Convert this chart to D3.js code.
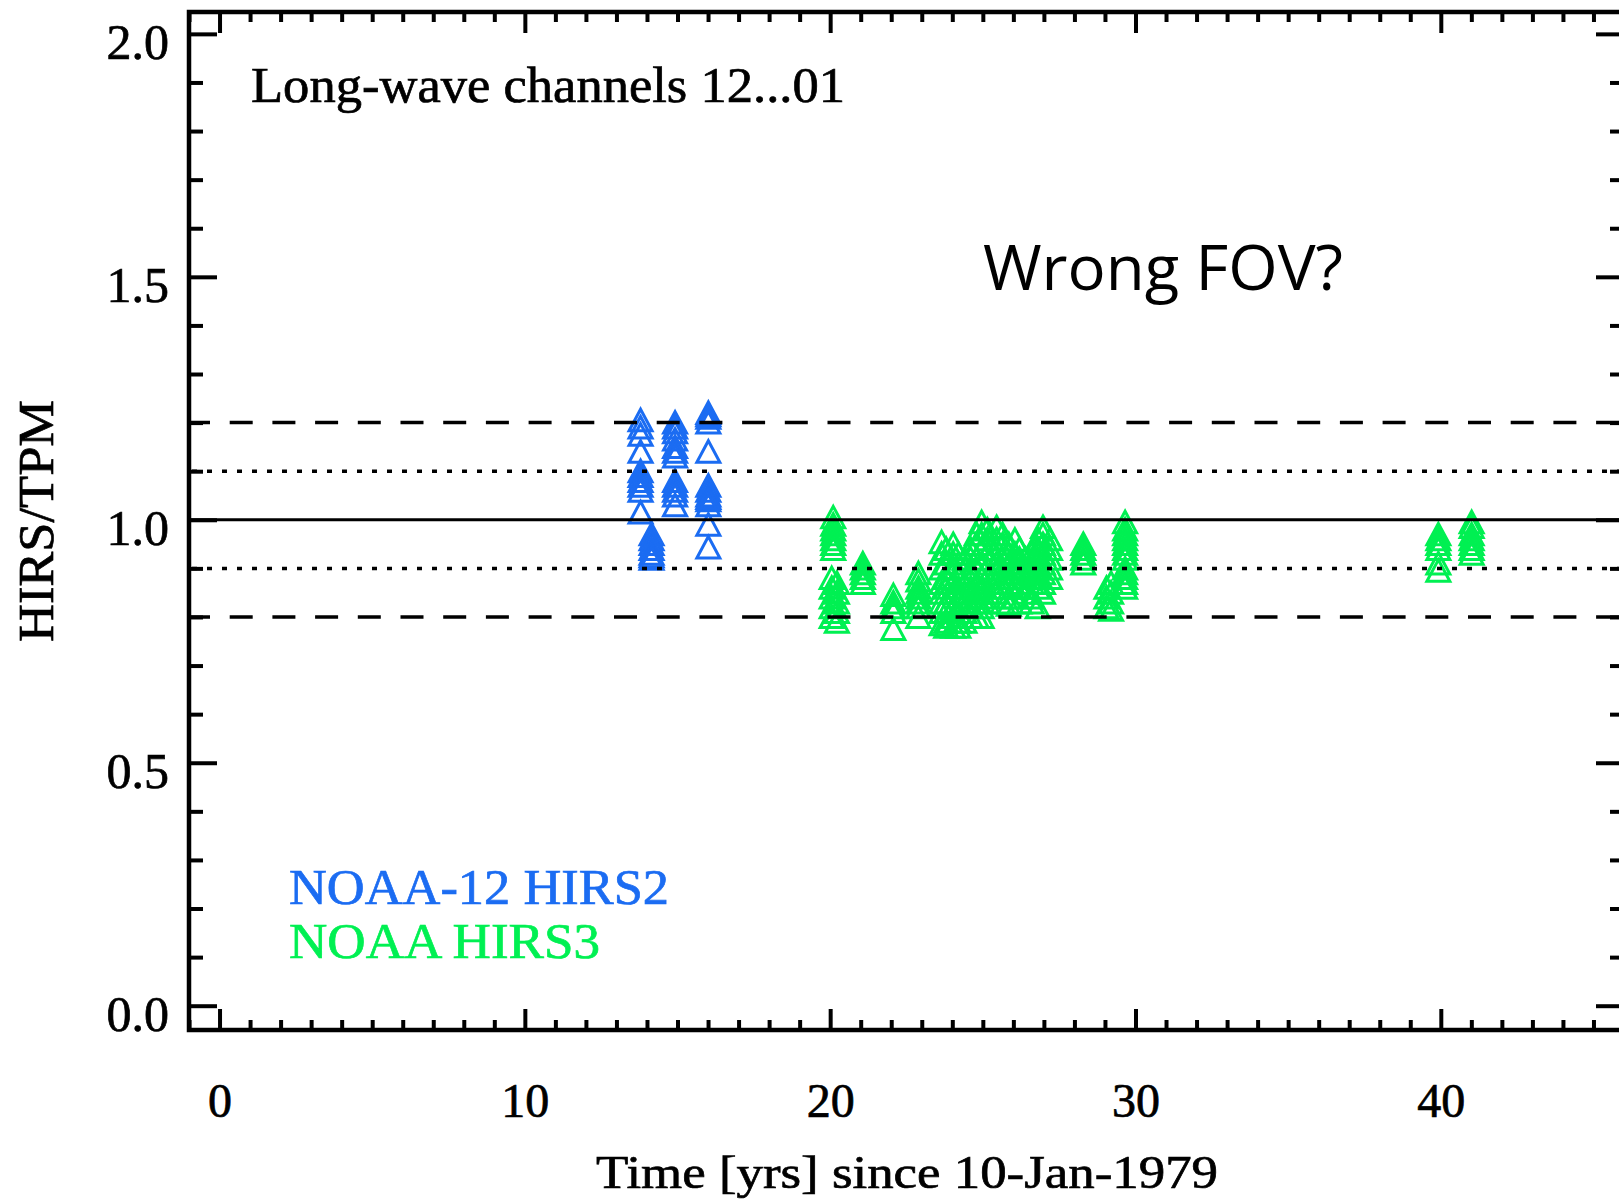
<!DOCTYPE html>
<html>
<head>
<meta charset="utf-8">
<script src="https://cdn.jsdelivr.net/npm/d3@7"></script>
<style>
  html, body { margin: 0; padding: 0; background: #fff; }
  svg { display: block; }
</style>
</head>
<body>
<svg id="chart" width="1619" height="1202"></svg>
<script>
// NOAA-12 HIRS2: observation epochs (years since 10-Jan-1979) and HIRS/TPM ratios at each epoch
const hirs2Epochs = [13.79, 14.15, 14.92, 16.01];
const hirs2Ratios = [
  [1.205, 1.19, 1.175, 1.14, 1.10, 1.09, 1.08, 1.07, 1.06, 1.015],
  [0.97, 0.96, 0.95, 0.94, 0.93, 0.925, 0.92],
  [1.20, 1.19, 1.18, 1.165, 1.15, 1.14, 1.13, 1.08, 1.07, 1.06, 1.05, 1.03],
  [1.22, 1.215, 1.21, 1.20, 1.14, 1.07, 1.06, 1.05, 1.045, 1.04, 1.03, 0.99, 0.943]
];

// NOAA HIRS3: observation epochs and HIRS/TPM ratios
const hirs3Epochs = [
  20.1, 20.05, 20.22, 21.07, 22.07, 22.89,
  23.65, 23.8, 24.03, 24.2, 24.4, 24.6, 24.8, 24.96, 25.15, 25.45, 25.65,
  25.85, 26.05, 26.2, 26.4, 26.6, 26.8, 26.97, 27.2,
  28.29, 29.05, 29.2, 29.66, 39.92, 41.01
];
const hirs3Ratios = [
  [1.005, 0.99, 0.98, 0.97, 0.96, 0.95, 0.94],
  [0.88, 0.86, 0.84, 0.82, 0.80],
  [0.87, 0.85, 0.83, 0.81, 0.79],
  [0.91, 0.90, 0.89, 0.88, 0.87],
  [0.845, 0.83, 0.82, 0.81, 0.775],
  [0.89, 0.875, 0.86, 0.85, 0.84, 0.83, 0.82, 0.80],
  [0.954, 0.93, 0.90, 0.87, 0.85, 0.83, 0.81, 0.785],
  [0.94, 0.91, 0.88, 0.86, 0.83, 0.81, 0.79, 0.78],
  [0.95, 0.93, 0.90, 0.87, 0.85, 0.82, 0.80, 0.78],
  [0.93, 0.91, 0.89, 0.86, 0.84, 0.81, 0.79, 0.78],
  [0.92, 0.90, 0.87, 0.85, 0.83, 0.81, 0.79],
  [0.94, 0.92, 0.89, 0.86, 0.84, 0.82, 0.80],
  [0.97, 0.95, 0.92, 0.90, 0.87, 0.85, 0.83, 0.80],
  [0.995, 0.97, 0.94, 0.91, 0.88, 0.86, 0.84, 0.82, 0.80],
  [0.98, 0.96, 0.93, 0.90, 0.88, 0.85, 0.83],
  [0.985, 0.96, 0.94, 0.91, 0.89, 0.87, 0.85],
  [0.97, 0.95, 0.92, 0.90, 0.88, 0.86, 0.83],
  [0.95, 0.93, 0.91, 0.89, 0.87, 0.84, 0.825],
  [0.959, 0.93, 0.91, 0.89, 0.86, 0.84],
  [0.94, 0.92, 0.90, 0.88, 0.86, 0.83],
  [0.92, 0.90, 0.88, 0.86, 0.85],
  [0.93, 0.91, 0.89, 0.87, 0.84, 0.83],
  [0.96, 0.94, 0.92, 0.90, 0.88, 0.86, 0.82],
  [0.985, 0.97, 0.95, 0.93, 0.91, 0.89, 0.87, 0.85],
  [0.96, 0.94, 0.92, 0.90, 0.88],
  [0.95, 0.94, 0.93, 0.92, 0.91],
  [0.86, 0.84, 0.82],
  [0.87, 0.85, 0.83, 0.815],
  [0.995, 0.98, 0.97, 0.96, 0.95, 0.94, 0.93, 0.92, 0.90, 0.89, 0.88, 0.87, 0.86],
  [0.97, 0.96, 0.95, 0.94, 0.91, 0.895],
  [0.995, 0.985, 0.97, 0.96, 0.95, 0.94, 0.93]
];

// Reference levels: nominal ratio, ±10 % and ±20 %
const solidLevels = [1.0];
const dottedLevels = [1.1, 0.9];
const dashedLevels = [1.2, 0.8];

// Axis ticks
const xMajorTicks = [0, 10, 20, 30, 40];
const yMajorTicks = [0.0, 0.5, 1.0, 1.5, 2.0];

const seriesNames = ["NOAA-12 HIRS2", "NOAA HIRS3"];
const seriesColors = ["#1b6cf2", "#00f052"];

const serif = "'Liberation Serif', 'Times New Roman', serif";

const svg = d3.select("#chart");
const frame = { left: 189, right: 1624, top: 12, bottom: 1030 };

const x = d3.scaleLinear().domain([-1, 46]).range([frame.left, frame.right]);
const y = d3.scaleLinear().domain([-0.05, 2.045]).range([frame.bottom, frame.top]);

const xMinor = d3.range(-1, 47, 1).filter(v => !xMajorTicks.includes(v));
const yMinor = d3.range(0, 21, 1).map(v => +(v / 10).toFixed(1)).filter(v => !yMajorTicks.includes(v));

// clip for everything inside the frame
svg.append("defs").append("clipPath").attr("id", "plotClip")
  .append("rect")
  .attr("x", frame.left).attr("y", frame.top)
  .attr("width", frame.right - frame.left).attr("height", frame.bottom - frame.top);

const plot = svg.append("g").attr("clip-path", "url(#plotClip)");

// flatten series into points
function toPoints(epochs, ratios, s) {
  const pts = [];
  epochs.forEach((t, i) => ratios[i].forEach(r => pts.push({ t, r, s })));
  return pts;
}
const points = toPoints(hirs2Epochs, hirs2Ratios, 0).concat(toPoints(hirs3Epochs, hirs3Ratios, 1));

// open triangles (IDL psym 5 style)
const tri = "M0,-11L11.5,10.5L-11.5,10.5Z";
plot.append("g").selectAll("path")
  .data(points)
  .join("path")
  .attr("d", tri)
  .attr("transform", d => `translate(${x(d.t)},${y(d.r)})`)
  .attr("fill", "none")
  .attr("stroke", d => seriesColors[d.s])
  .attr("stroke-width", 3)
  .attr("stroke-linejoin", "miter");

// reference lines
const lines = plot.append("g");
lines.selectAll(".solid").data(solidLevels).join("line")
  .attr("x1", frame.left).attr("x2", frame.right)
  .attr("y1", d => y(d)).attr("y2", d => y(d))
  .attr("stroke", "#000").attr("stroke-width", 3);
lines.selectAll(".dotted").data(dottedLevels).join("line")
  .attr("x1", frame.left + 3).attr("x2", frame.right)
  .attr("y1", d => y(d)).attr("y2", d => y(d))
  .attr("stroke", "#000").attr("stroke-width", 3.5)
  .attr("stroke-dasharray", "5,10");
lines.selectAll(".dashed").data(dashedLevels).join("line")
  .attr("x1", frame.left - 2).attr("x2", frame.right)
  .attr("y1", d => y(d)).attr("y2", d => y(d))
  .attr("stroke", "#000").attr("stroke-width", 3.5)
  .attr("stroke-dasharray", "23,19.7");

// axes: ticks point inward on all four sides
function styleAxis(g) {
  g.select(".domain").remove();
  g.selectAll(".tick line").attr("stroke", "#000").attr("stroke-width", 4);
}

// bottom
svg.append("g").attr("transform", `translate(0,${frame.bottom})`)
  .call(d3.axisBottom(x).tickValues(xMinor).tickSize(-10).tickFormat(""))
  .call(styleAxis);
const xAxisG = svg.append("g").attr("transform", `translate(0,${frame.bottom})`)
  .call(d3.axisBottom(x).tickValues(xMajorTicks).tickSize(-21).tickFormat(d3.format("d")))
  .call(styleAxis);
xAxisG.selectAll(".tick text")
  .attr("y", 87).attr("dy", 0)
  .style("font-family", serif).style("font-size", "48px")
  .style("fill", "#000").style("stroke", "#000").style("stroke-width", "0.7px");

// top
svg.append("g").attr("transform", `translate(0,${frame.top})`)
  .call(d3.axisTop(x).tickValues(xMinor).tickSize(-10).tickFormat(""))
  .call(styleAxis);
svg.append("g").attr("transform", `translate(0,${frame.top})`)
  .call(d3.axisTop(x).tickValues(xMajorTicks).tickSize(-21).tickFormat(""))
  .call(styleAxis);

// left
svg.append("g").attr("transform", `translate(${frame.left},0)`)
  .call(d3.axisLeft(y).tickValues(yMinor).tickSize(-14).tickFormat(""))
  .call(styleAxis);
const yAxisG = svg.append("g").attr("transform", `translate(${frame.left},0)`)
  .call(d3.axisLeft(y).tickValues(yMajorTicks).tickSize(-28).tickPadding(20).tickFormat(d3.format(".1f")))
  .call(styleAxis);
yAxisG.selectAll(".tick text")
  .attr("dy", "0.5em")
  .style("font-family", serif).style("font-size", "50px")
  .style("fill", "#000").style("stroke", "#000").style("stroke-width", "0.7px");

// right
svg.append("g").attr("transform", `translate(${frame.right},0)`)
  .call(d3.axisRight(y).tickValues(yMinor).tickSize(-14).tickFormat(""))
  .call(styleAxis);
svg.append("g").attr("transform", `translate(${frame.right},0)`)
  .call(d3.axisRight(y).tickValues(yMajorTicks).tickSize(-28).tickFormat(""))
  .call(styleAxis);

// frame
svg.append("rect")
  .attr("x", frame.left).attr("y", frame.top)
  .attr("width", frame.right - frame.left).attr("height", frame.bottom - frame.top)
  .attr("fill", "none").attr("stroke", "#000").attr("stroke-width", 4.5);

function serifText(sel, size, color) {
  return sel.style("font-family", serif).style("font-size", size + "px")
    .style("fill", color).style("stroke", color).style("stroke-width", "0.7px");
}

// axis titles
serifText(svg.append("text"), 47, "#000")
  .attr("x", 596).attr("y", 1188)
  .attr("textLength", 622).attr("lengthAdjust", "spacingAndGlyphs")
  .text("Time [yrs] since 10-Jan-1979");

serifText(svg.append("text"), 50, "#000")
  .attr("transform", "translate(53,521) rotate(-90)")
  .attr("text-anchor", "middle")
  .attr("textLength", 242).attr("lengthAdjust", "spacingAndGlyphs")
  .text("HIRS/TPM");

// annotation inside the plot
serifText(svg.append("text"), 51, "#000")
  .attr("x", 251).attr("y", 102)
  .attr("textLength", 594).attr("lengthAdjust", "spacingAndGlyphs")
  .text("Long-wave channels 12...01");

svg.append("text")
  .attr("x", 983).attr("y", 290)
  .style("font-family", "'Open Sans', 'Noto Sans', sans-serif")
  .style("font-size", "63px")
  .style("fill", "#000")
  .attr("textLength", 360).attr("lengthAdjust", "spacingAndGlyphs")
  .text("Wrong FOV?");

// legend
const legendWidths = [380, 311];
const legendBaselines = [904, 958];
svg.append("g").selectAll("text")
  .data(seriesNames)
  .join("text")
  .attr("x", 289)
  .attr("y", (d, i) => legendBaselines[i])
  .style("font-family", serif).style("font-size", "50px")
  .style("fill", (d, i) => seriesColors[i])
  .style("stroke", (d, i) => seriesColors[i]).style("stroke-width", "0.7px")
  .attr("textLength", (d, i) => legendWidths[i]).attr("lengthAdjust", "spacingAndGlyphs")
  .text(d => d);
</script>
</body>
</html>
